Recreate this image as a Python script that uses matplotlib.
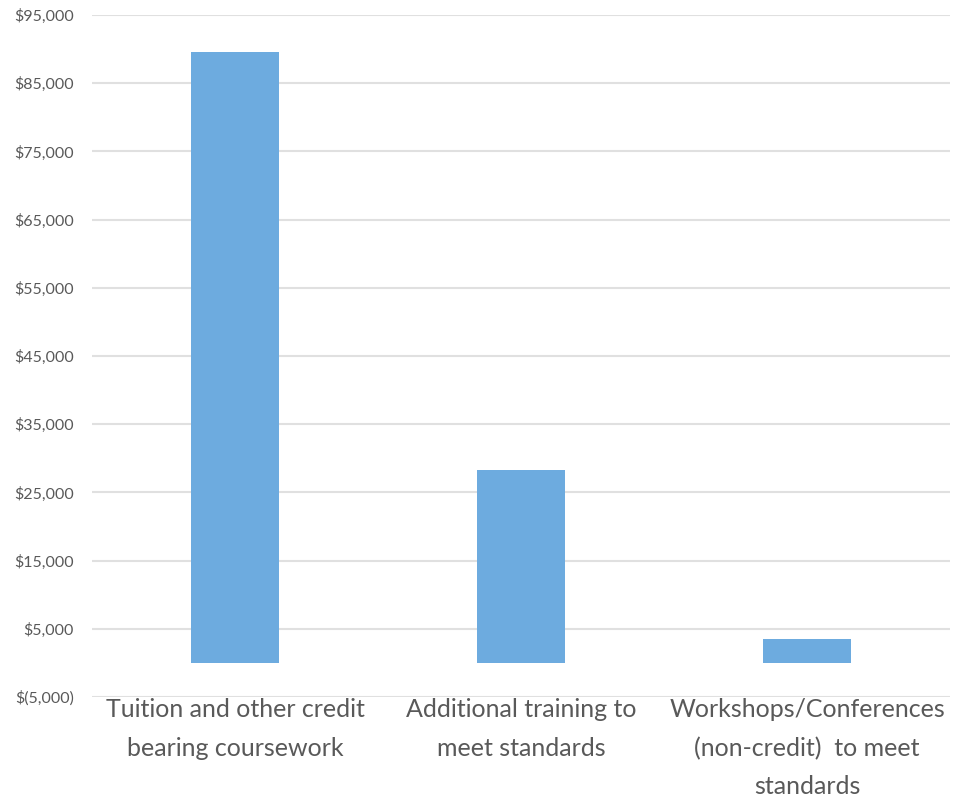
import matplotlib
matplotlib.use("Agg")
import matplotlib.pyplot as plt
import numpy as np
from matplotlib.ticker import FuncFormatter

# data
categories = ["Tuition and other credit\nbearing coursework",
              "Additional training to\nmeet standards",
              "Workshops/Conferences\n(non-credit)  to meet\nstandards"]
costs = [89600, 28300, 3500]

plt.rcParams['font.family'] = ['Lato', 'DejaVu Sans']

fig = plt.figure(figsize=(9.65, 8), dpi=100)
ax = fig.add_axes([92 / 965, 1 - 697 / 800, (950 - 92) / 965, (697 - 15) / 800])

x = np.arange(len(categories))
ax.bar(x, costs, width=0.31, color='#6dabdf', zorder=3)

ax.set_xlim(-0.5, len(categories) - 0.5)
ax.set_ylim(-5000, 95000)
ax.set_yticks(np.arange(-5000, 95001, 10000))


def money(v, pos):
    if v < 0:
        return "$({:,.0f})".format(-v)
    return "${:,.0f}".format(v)


ax.yaxis.set_major_formatter(FuncFormatter(money))
ax.grid(axis='y', color='#e0e0e0', linewidth=1.5, zorder=0)
for s in ax.spines.values():
    s.set_visible(False)
ax.tick_params(axis='y', length=0, pad=13, labelsize=11.5, labelcolor='#595959')
ax.tick_params(axis='x', length=0, pad=1, labelsize=18, labelcolor='#595959')
ax.set_xticks(x)
ax.set_xticklabels(categories, linespacing=1.8)

fig.savefig("out.png", dpi=100)
